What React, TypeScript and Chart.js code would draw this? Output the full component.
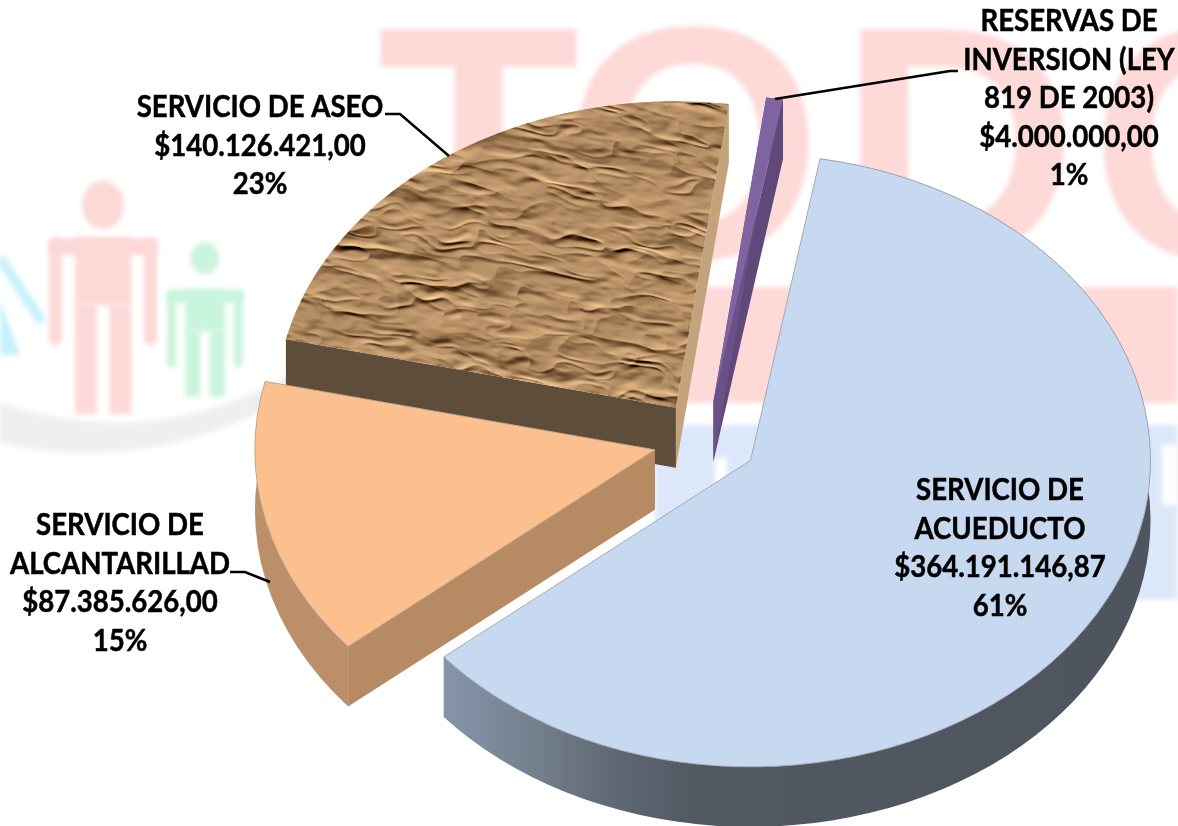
import React, { useEffect, useRef } from "react";
import { Chart, registerables } from "chart.js";

Chart.register(...registerables);

// ---- data ----
const categories = ["SERVICIO DE ACUEDUCTO", "SERVICIO DE ALCANTARILLAD", "SERVICIO DE ASEO", "RESERVAS DE INVERSION (LEY 819 DE 2003)"];
const values = [364191146.87, 87385626.0, 140126421.0, 4000000.0];
const moneyLabels = ["$364.191.146,87", "$87.385.626,00", "$140.126.421,00", "$4.000.000,00"];
const percentLabels = ["61%", "15%", "23%", "1%"];
const nameLines = [["SERVICIO DE", "ACUEDUCTO"], ["SERVICIO DE", "ALCANTARILLAD"], ["SERVICIO DE ASEO"], ["RESERVAS DE", "INVERSION (LEY", "819 DE 2003)"]];

// ---- layout and style ----
const W = 1178, H = 826;
const SQUASH = 0.766, DEPTH = 60, RADIUS = 400, EXPLODE = 52;
const topColors = ["#c6d9f1", "#fcbf8e", "", "#8064a2"];
const rimColors = ["", "#bb8f69", "#c4a27c", "#5f497a"];
const startWallColors = ["", "#b68b64", "#5e4d3b", "#6a5289"];
const endWallColors = ["", "#bb8f69", "#c4a27c", "#5f497a"];
const borderColors = ["#9aa3ad", "#b9a48f", "rgba(0,0,0,0)", "rgba(0,0,0,0)"];
const labelAnchors = [{ x: 1000, y: 500 }, { x: 120, y: 535 }, { x: 260, y: 117 }, { x: 1069, y: 31 }];
const LINE_GAP = 38.5;
const leaders = [
  null,
  [[230, 572], [245, 572], [270, 582]],
  [[385, 114], [400, 114], [449, 156]],
  [[775, 99], [950, 71], [958, 71]],
];
const FONT = '700 30px Lato, "Open Sans", sans-serif';
const TEXT_X_SCALE = 0.92;

// crumpled-paper surface for the brown slice (a pure function of x and y)
function hash(i: number, j: number) {
  const s = Math.sin(i * 127.1 + j * 311.7) * 43758.5453;
  return s - Math.floor(s);
}
function vnoise(x: number, y: number) {
  const i = Math.floor(x), j = Math.floor(y);
  const fx = x - i, fy = y - j;
  const u = fx * fx * (3 - 2 * fx), v = fy * fy * (3 - 2 * fy);
  const a = hash(i, j), b = hash(i + 1, j), c = hash(i, j + 1), d = hash(i + 1, j + 1);
  return a + (b - a) * u + (c - a) * v + (a - b - c + d) * u * v;
}
function makeTexture(ctx: CanvasRenderingContext2D) {
  const w = 800, h = 620;
  const off = document.createElement("canvas");
  off.width = w; off.height = h;
  const oc = off.getContext("2d")!;
  const img = oc.createImageData(w, h);
  const H2 = new Float32Array(w * h);
  const ca = Math.cos(0.3), sa = Math.sin(0.3);
  for (let y = 0; y < h; y++) {
    for (let x = 0; x < w; x++) {
      const u = x * ca + y * sa, v = -x * sa + y * ca;
      const wx = vnoise(u / 28, v / 18) * 22, wy = vnoise(u / 20 + 9, v / 14 + 5) * 18;
      const b1 = Math.abs(2 * vnoise((u + wx) / 72, (v + wy) / 19) - 1);
      const b2 = Math.abs(2 * vnoise((u - wy) / 32 + 30, (v + wx) / 10 + 30) - 1);
      const n3 = vnoise(u / 10 + 70, v / 5 + 70);
      H2[y * w + x] = b1 * 11 + b2 * 6 + n3 * 1.8;
    }
  }
  for (let y = 0; y < h; y++) {
    for (let x = 0; x < w; x++) {
      const x2 = Math.min(w - 1, x + 1), y2 = Math.min(h - 1, y + 2);
      const l = (H2[y * w + x] - H2[y2 * w + x2]) * 30;
      const k = (y * w + x) * 4;
      const d = l > 0 ? l * 0.55 : l * 1.2;
      img.data[k] = 178 + d;
      img.data[k + 1] = 140 + d * 0.92;
      img.data[k + 2] = 98 + d * 0.75;
      img.data[k + 3] = 255;
    }
  }
  oc.putImageData(img, 0, 0);
  return ctx.createPattern(off, "repeat")!;
}

// faded logo behind the chart
function person(c: CanvasRenderingContext2D, cx: number, headY: number, headR: number, top: number, bottom: number, halfW: number, armLow: number, color: string) {
  c.fillStyle = color;
  c.beginPath();
  c.ellipse(cx, headY, headR, headR * 1.15, 0, 0, Math.PI * 2);
  c.fill();
  const armW = halfW * 0.24, bodyW = halfW * 0.52, gap = halfW * 0.12;
  c.beginPath();
  c.roundRect(cx - halfW, top, halfW * 2, armW + 4, 6);
  c.fill();
  c.beginPath();
  c.roundRect(cx - halfW, top, armW, armLow - top, 6);
  c.roundRect(cx + halfW - armW, top, armW, armLow - top, 6);
  c.fill();
  const mid = top + (bottom - top) * 0.38;
  c.fillRect(cx - bodyW, top, bodyW * 2, mid - top);
  c.fillRect(cx - bodyW, mid - 1, bodyW - gap, bottom - mid);
  c.fillRect(cx + gap, mid - 1, bodyW - gap, bottom - mid);
}
function drawWatermark(c: CanvasRenderingContext2D) {
  c.save();
  c.fillStyle = "#ffffff";
  c.fillRect(0, 0, W, H);
  c.filter = "blur(2.5px)";
  const pink = "#fdd9d8";
  c.fillStyle = pink;
  c.font = '700 332px "Liberation Sans", sans-serif';
  c.textBaseline = "alphabetic";
  c.textAlign = "left";
  const letters = ["T", "O", "D", "O", "S"];
  const xs = [377, 564, 838, 1090, 1340];
  letters.forEach((t, i) => c.fillText(t, xs[i], 258));
  c.fillRect(660, 287, 518, 116);
  c.fillStyle = "#dce8f9";
  c.fillRect(655, 425, 523, 175);
  c.fillStyle = "#ffffff";
  c.fillRect(715, 458, 12, 34);
  c.fillRect(1162, 445, 16, 60);
  c.fillStyle = "#efefef";
  c.beginPath();
  c.moveTo(0, 403);
  c.quadraticCurveTo(160, 455, 300, 368);
  c.lineTo(300, 392);
  c.quadraticCurveTo(150, 478, 0, 443);
  c.closePath();
  c.fill();
  person(c, 103, 205, 21, 238, 415, 54, 345, "#fcd8d7");
  person(c, 205, 258, 14, 290, 398, 38, 368, "#c9f4dd");
  c.strokeStyle = "#c6f1fb";
  c.lineWidth = 10;
  c.beginPath();
  c.moveTo(0, 258);
  c.lineTo(42, 322);
  c.stroke();
  c.fillStyle = "#c6f1fb";
  c.beginPath();
  c.moveTo(0, 300);
  c.lineTo(20, 355);
  c.lineTo(0, 355);
  c.closePath();
  c.fill();
  c.restore();
}

// side walls of the raised slices, drawn under the library's own arcs
function drawWalls(chart: any) {
  const c: CanvasRenderingContext2D = chart.ctx;
  const meta = chart.getDatasetMeta(0);
  const d = DEPTH / SQUASH;
  [2, 3, 0, 1].forEach((i) => {
    const arc = meta.data[i];
    const { x: ax, y: ay, startAngle: a, endAngle: b, outerRadius: r } = arc.getProps(["x", "y", "startAngle", "endAngle", "outerRadius"], true);
    const wall = (ang: number, color: string) => {
      if (!color) return;
      const rx = ax + Math.cos(ang) * r, ry = ay + Math.sin(ang) * r;
      c.fillStyle = color;
      c.beginPath();
      c.moveTo(ax, ay);
      c.lineTo(rx, ry);
      c.lineTo(rx, ry + d);
      c.lineTo(ax, ay + d);
      c.closePath();
      c.fill();
    };
    let rim: any = rimColors[i];
    if (i === 0) {
      rim = c.createLinearGradient(445, 0, 1150, 0);
      rim.addColorStop(0, "#8594a9");
      rim.addColorStop(0.12, "#76818f");
      rim.addColorStop(0.24, "#5f6874");
      rim.addColorStop(0.36, "#525862");
      rim.addColorStop(1, "#4f555e");
    }
    c.fillStyle = rim;
    c.beginPath();
    c.arc(ax, ay, r, a, b);
    c.arc(ax, ay + d, r, b, a, true);
    c.closePath();
    c.fill();
    wall(b, endWallColors[i]);
    wall(a, startWallColors[i]);
  });
}

const pie3d = {
  id: "pie3d",
  // explode every slice by the same distance along its own middle angle
  afterDatasetsUpdate(chart: any) {
    chart.getDatasetMeta(0).data.forEach((arc: any) => {
      const m = (arc.startAngle + arc.endAngle) / 2;
      arc.x += Math.cos(m) * EXPLODE;
      arc.y += Math.sin(m) * EXPLODE;
    });
  },
  beforeDraw(chart: any) {
    drawWatermark(chart.ctx);
  },
  beforeDatasetsDraw(chart: any) {
    const c = chart.ctx;
    const cy = (chart.chartArea.top + chart.chartArea.bottom) / 2;
    c.save();
    c.translate(0, cy);
    c.scale(1, SQUASH);
    c.translate(0, -cy);
    drawWalls(chart);
  },
  afterDatasetsDraw(chart: any) {
    const c: CanvasRenderingContext2D = chart.ctx;
    c.restore();
    c.save();
    c.strokeStyle = "#000000";
    c.lineWidth = 2.5;
    leaders.forEach((pts) => {
      if (!pts) return;
      c.beginPath();
      pts.forEach((p, i) => (i ? c.lineTo(p[0], p[1]) : c.moveTo(p[0], p[1])));
      c.stroke();
    });
    c.fillStyle = "#000000";
    c.lineWidth = 0.5;
    c.font = FONT;
    c.textAlign = "center";
    c.textBaseline = "alphabetic";
    categories.forEach((_, i) => {
      const lines = [...nameLines[i], moneyLabels[i], percentLabels[i]];
      lines.forEach((t, j) => {
        c.save();
        c.translate(labelAnchors[i].x, labelAnchors[i].y + j * LINE_GAP);
        c.scale(TEXT_X_SCALE, 1);
        c.fillText(t, 0, 0);
        c.strokeText(t, 0, 0);
        c.restore();
      });
    });
    c.restore();
  },
};

export default function App() {
  const ref = useRef<HTMLCanvasElement>(null);
  useEffect(() => {
    document.body.style.margin = "0";
    const canvas = ref.current!;
    const ctx = canvas.getContext("2d")!;
    const texture = makeTexture(ctx);
    const chart = new Chart(canvas, {
      type: "pie",
      data: {
        labels: categories,
        datasets: [
          {
            data: values,
            backgroundColor: topColors.map((col) => col || texture),
            borderColor: borderColors,
            borderWidth: 1,
            clip: false,
          } as any,
        ],
      },
      options: {
        responsive: false,
        animation: false,
        devicePixelRatio: 1,
        events: [],
        rotation: 10,
        radius: RADIUS,
        layout: { padding: { left: 233, top: 55, right: 0, bottom: 0 } },
        plugins: { legend: { display: false }, tooltip: { enabled: false } },
      } as any,
      plugins: [pie3d],
    });
    return () => chart.destroy();
  }, []);
  return <canvas ref={ref} width={W} height={H} style={{ display: "block", width: W, height: H }} />;
}
